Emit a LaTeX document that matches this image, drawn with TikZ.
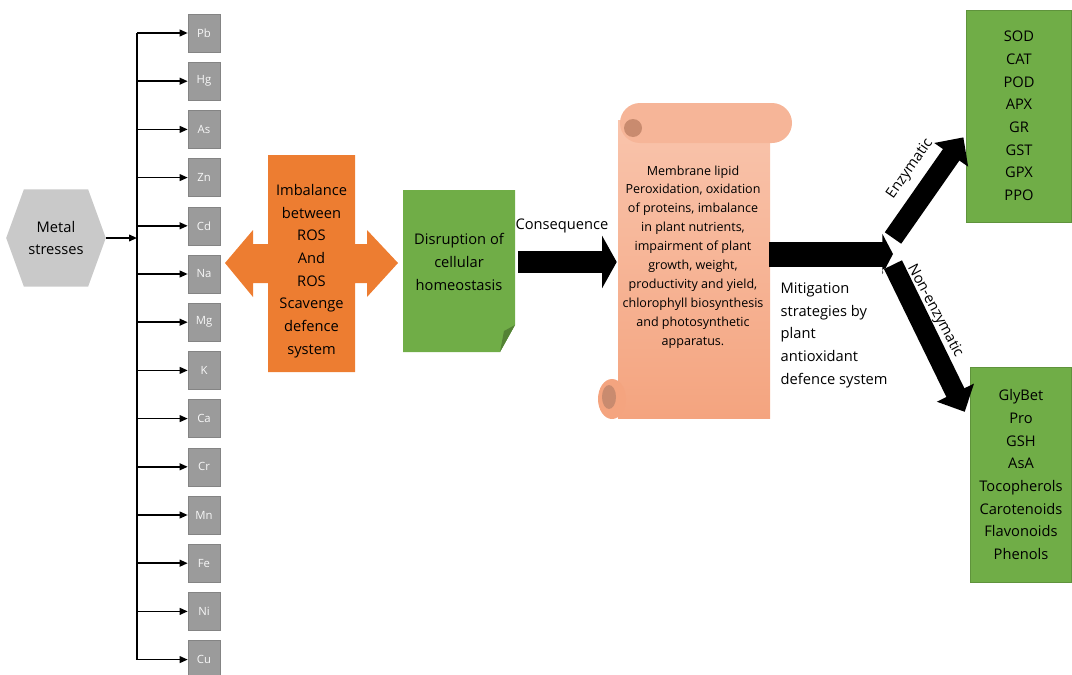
\documentclass[tikz,border=0pt]{standalone}
\usepackage{fontspec}
\setmainfont{Open Sans}
\usetikzlibrary{arrows.meta, positioning, shapes.symbols, calc}
\definecolor{metalgray}{HTML}{9B9B9B}
\definecolor{hexgray}{HTML}{C9C9C9}
\definecolor{rosorange}{HTML}{ED7D31}
\definecolor{leafgreen}{HTML}{70AD47}
\definecolor{scrolltop}{HTML}{F9C4AC}
\definecolor{scrollbot}{HTML}{F4A47F}
\definecolor{scrollroll}{HTML}{F6B598}
\definecolor{scrollcurl}{HTML}{C98B6F}

\begin{document}
\begin{tikzpicture}[x=0.75pt, y=-0.75pt,
    metal/.style={draw=metalgray!85!black, fill=metalgray, minimum width=24pt, minimum height=28.5pt, inner sep=0pt, text=white!92!metalgray, font=\fontsize{8.5}{9}\selectfont},
    link/.style={-{Triangle[length=6pt, width=5pt]}, line width=1.2pt},
    body/.style={align=center, font=\fontsize{11}{17}\selectfont},
    fat/.style={line width=17pt, -{Triangle[length=11pt, width=39pt]}},
    branch/.style={line width=15pt, -{Triangle[length=16pt, width=30pt]}, preaction={draw=white, line width=18pt, arrows=-, shorten >=30pt}},
    leafbox/.style={fill=leafgreen, draw=leafgreen!85!black, body}]
  \useasboundingbox (0,0) rectangle (1072,675);

  \node[shape=signal, signal to=west and east, signal pointer angle=140, fill=hexgray, minimum width=70pt, minimum height=73pt, body] (metal) at (56,238) {Metal\\stresses};
  \coordinate (bus) at (137,238);
  \draw[link] (metal.east) -- (bus);

  \foreach \m [count=\i from 0] in {Pb,Hg,As,Zn,Cd,Na,Mg,K,Ca,Cr,Mn,Fe,Ni,Cu} {
    \node[metal] (m\i) at (204,33+48.2*\i) {\m};
    \coordinate (b\i) at (137,33+48.2*\i);
    \draw[link] (b\i) -- (m\i);
  }
  \draw[line width=1.3pt] (b0) -- (b13);

  \fill[rosorange] (268,155) -- (355,155) -- (355,244) -- (367,244) -- (367,230) -- (398,263) -- (367,297) -- (367,283) -- (355,283) -- (355,372) -- (268,372) -- (268,283) -- (253,283) -- (253,297) -- (225,263) -- (253,230) -- (253,244) -- (268,244) -- cycle;
  \node[body] (imb) at (311.5,271) {Imbalance\\between\\ROS\\And\\ROS\\Scavenge\\defence\\system};

  \fill[leafgreen] (403,190) -- (515,190) -- (515,325) -- (500,352) -- (403,352) -- cycle;
  \fill[leafgreen!75!black] (515,325) -- (504,331) -- (500,352) -- cycle;
  \node[body, minimum width=84pt] (dis) at (459,262) {Disruption of\\cellular\\homeostasis};

  \fill[top color=scrolltop, bottom color=scrollbot] (618,120) rectangle (770,418);
  \fill[scrollroll, rounded corners=15pt] (620,103) rectangle (792,143);
  \fill[scrollcurl] (633,128) circle (9);
  \fill[scrollbot] (612,399) ellipse (14 and 20);
  \fill[scrollcurl] (609,397) ellipse (7 and 12);
  \node[font=\fontsize{9.4}{14.2}\selectfont, align=center, minimum width=114pt, inner sep=0pt] (scr) at (693,257) {Membrane lipid\\Peroxidation, oxidation\\of proteins, imbalance\\in plant nutrients,\\impairment of plant\\growth, weight,\\productivity and yield,\\chlorophyll biosynthesis\\and photosynthetic\\apparatus.};

  \draw[fat, shorten <=2pt] (dis.east) -- (dis.east -| scr.west);
  \node[body] (cons) at (562,226) {Consequence};

  \coordinate (split) at (893,254);
  \draw[line width=18.75pt, -{Triangle[length=8pt, width=30pt]}] (scr.east |- split) -- (split);

  \node[leafbox, minimum width=79pt, minimum height=159pt] (enz) at (1019,116) {SOD\\CAT\\POD\\APX\\GR\\GST\\GPX\\PPO};
  \node[leafbox, minimum width=76pt, minimum height=161pt] (non) at (1021,474.5) {GlyBet\\Pro\\GSH\\AsA\\Tocopherols\\Carotenoids\\Flavonoids\\Phenols};

  \draw[branch] ([yshift=12pt]split) -- ([yshift=-16pt, xshift=-2pt]enz.west);
  \draw[branch] ([yshift=-8pt]split) -- ([yshift=47pt, xshift=-4pt]non.west);
  \node[body, rotate=55] (enzlab) at (910,169) {Enzymatic};
  \node[body, rotate=-62] (nonlab) at (935,311) {Non-enzymatic};

  \node[body, align=left, anchor=north west] (mit) at (776,278) {Mitigation\\strategies by\\plant\\antioxidant\\defence system};
\end{tikzpicture}
\end{document}
